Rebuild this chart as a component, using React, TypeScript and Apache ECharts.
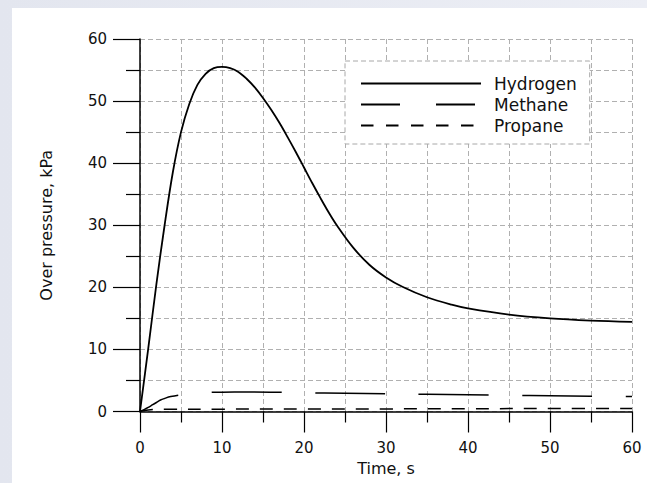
import React, { useEffect, useRef } from "react";
import * as echarts from "echarts";

const hydrogenT = [0, 1, 2, 3, 4, 5, 6, 7, 8, 9, 10, 11, 12, 13, 14, 15, 16, 17, 18, 19, 20, 21, 22, 23, 24, 26, 28, 30, 32, 35, 38, 40, 45, 50, 55, 60];
const hydrogenV = [0, 10.1, 20.5, 30, 38.5, 45, 49.5, 52.6, 54.4, 55.3, 55.5, 55.3, 54.7, 53.6, 52.2, 50.5, 48.6, 46.5, 44.2, 41.8, 39.3, 36.8, 34.4, 32.1, 30, 26.4, 23.6, 21.6, 20.1, 18.4, 17.2, 16.6, 15.6, 15, 14.65, 14.45];

const methaneT = [0, 0.5, 1, 1.5, 2, 2.5, 3, 3.75, 5, 6, 8, 10, 13, 17, 20, 25, 30, 35, 40, 45, 50, 55, 60];
const methaneV = [0, 0.3, 0.65, 1.05, 1.45, 1.85, 2.1, 2.4, 2.7, 2.85, 3.05, 3.12, 3.15, 3.1, 3.02, 2.95, 2.85, 2.78, 2.7, 2.62, 2.55, 2.47, 2.4];

const propaneT = [0, 0.5, 1, 2, 3, 10, 20, 30, 40, 50, 60];
const propaneV = [0, 0.15, 0.25, 0.33, 0.35, 0.38, 0.4, 0.42, 0.45, 0.48, 0.5];

const seriesNames = ["Hydrogen", "Methane", "Propane"];
const xName = "Time, s";
const yName = "Over pressure, kPa";

const pairs = (t: number[], v: number[]) => t.map((x, i) => [x, v[i]]);

export default function App() {
  const ref = useRef<HTMLDivElement>(null);
  useEffect(() => {
    if (!ref.current) return;
    const chart = echarts.init(ref.current, undefined, { renderer: "svg" });
    const font = "DejaVu Sans";
    const gridLine = { show: true, lineStyle: { color: "#b0b0b0", width: 1, type: [5, 3] as any } };
    const axisCommon = {
      type: "value" as const,
      min: 0,
      max: 60,
      interval: 10,
      axisLine: { show: true, onZero: false, lineStyle: { color: "#000", width: 1.5 } },
      splitLine: gridLine,
      minorSplitLine: gridLine,
    };
    chart.setOption({
      animation: false,
      backgroundColor: "#fff",
      grid: { left: 128, top: 31, right: 15, bottom: 71.5, containLabel: false },
      legend: {
        orient: "vertical",
        left: 333,
        top: 53,
        padding: [14, 13, 10, 15],
        itemWidth: 120,
        itemHeight: 14,
        itemGap: 4,
        backgroundColor: "#fff",
        borderColor: "#a8a8a8",
        borderWidth: 1,
        borderType: [5, 3],
        itemStyle: { opacity: 0 },
        textStyle: { fontFamily: font, fontSize: 17, color: "#111", padding: [0, 0, 0, 8] },
        data: [
          { name: seriesNames[0] },
          { name: seriesNames[1], lineStyle: { type: [39, 36], dashOffset: 0 } },
          { name: seriesNames[2], lineStyle: { type: [12.5, 12.5], dashOffset: 0 } },
        ],
      },
      xAxis: {
        ...axisCommon,
        name: xName,
        nameLocation: "middle",
        nameGap: 46,
        nameTextStyle: { fontFamily: font, fontSize: 16, color: "#111" },
        axisTick: { show: true, inside: false, length: 21, lineStyle: { color: "#000", width: 1.2 } },
        minorTick: { show: true, splitNumber: 2, length: 11, lineStyle: { color: "#000", width: 1.2 } },
        axisLabel: { margin: 29, fontFamily: font, fontSize: 15, color: "#111" },
      },
      yAxis: {
        ...axisCommon,
        name: yName,
        nameLocation: "middle",
        nameGap: 86,
        nameRotate: 90,
        nameTextStyle: { fontFamily: font, fontSize: 16, color: "#111" },
        axisTick: { show: true, inside: false, length: 27, lineStyle: { color: "#000", width: 1.2 } },
        minorTick: { show: true, splitNumber: 2, length: 14, lineStyle: { color: "#000", width: 1.2 } },
        axisLabel: { margin: 33, fontFamily: font, fontSize: 15, color: "#111" },
      },
      series: [
        {
          name: seriesNames[0],
          type: "line",
          data: pairs(hydrogenT, hydrogenV),
          smooth: 0.35,
          symbol: "none",
          lineStyle: { color: "#000", width: 1.8 },
          itemStyle: { color: "#000" },
        },
        {
          name: seriesNames[1],
          type: "line",
          data: pairs(methaneT, methaneV),
          smooth: 0.35,
          symbol: "none",
          lineStyle: { color: "#000", width: 1.5, type: [70, 33.5], dashOffset: 28 },
          itemStyle: { color: "#000" },
        },
        {
          name: seriesNames[2],
          type: "line",
          data: pairs(propaneT, propaneV),
          smooth: 0.35,
          symbol: "none",
          lineStyle: { color: "#000", width: 1.5, type: [13, 11] },
          itemStyle: { color: "#000" },
        },
      ],
    });
    return () => chart.dispose();
  }, []);
  return (
    <div style={{ position: "fixed", left: 0, top: 0, width: 647, height: 483, background: "linear-gradient(90deg, #e3e6ef, #eceef5)" }}>
      <div ref={ref} style={{ position: "absolute", left: 12, top: 8, width: 635, height: 475, background: "#fff" }} />
    </div>
  );
}
